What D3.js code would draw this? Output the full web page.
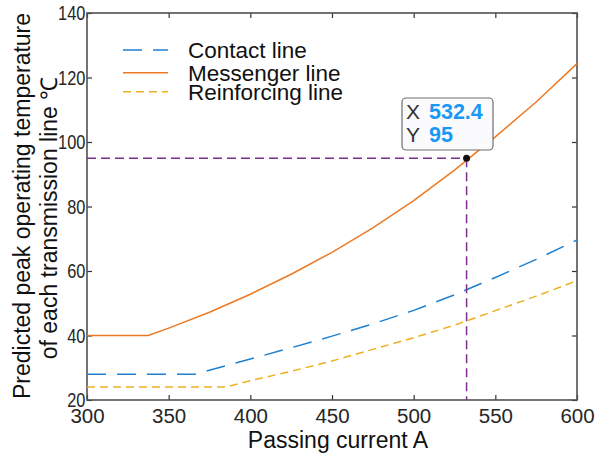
<!DOCTYPE html>
<html>
<head>
<meta charset="utf-8">
<script src="https://cdn.jsdelivr.net/npm/d3@7"></script>
<style>
  html, body { margin: 0; padding: 0; background: #fff; }
  svg { display: block; }
  text { font-family: "Liberation Sans", Arial, sans-serif; }
</style>
</head>
<body>
<svg id="chart" width="599" height="457"></svg>
<script>
// ---- data ----
const contactX   = [300, 366, 400, 425, 450, 475, 500, 525, 550, 575, 600];
const contactY   = [28, 28, 32.7, 36.2, 39.8, 43.6, 47.8, 52.6, 58, 63.6, 69.6];
const messengerX = [300, 337.5, 350, 375, 400, 425, 450, 475, 500, 525, 550, 575, 600];
const messengerY = [40, 40, 42.3, 47.2, 52.8, 59, 65.8, 73.4, 81.8, 91.3, 101.6, 112.4, 124.3];
const reinforcingX = [300, 385, 400, 425, 450, 475, 500, 525, 550, 575, 600];
const reinforcingY = [24, 24, 26, 28.9, 32.1, 35.7, 39.3, 43.2, 47.7, 52.2, 57];
const xTicks = [300, 350, 400, 450, 500, 550, 600];
const yTicks = [20, 40, 60, 80, 100, 120, 140];
const seriesNames = ["Contact line", "Messenger line", "Reinforcing line"];
const tipX = 532.4, tipY = 95;

// ---- layout ----
const svg = d3.select("#chart");
const L = 87, R = 577, T = 13, B = 400;
const x = d3.scaleLinear().domain([300, 600]).range([L, R]);
const y = d3.scaleLinear().domain([20, 140]).range([B, T]);

const styles = [
  { color: "#1f80d0", dash: "19,11" },
  { color: "#ec7a24", dash: null },
  { color: "#edb120", dash: "8,5" }
];
const series = [
  contactX.map((v, i) => [v, contactY[i]]),
  messengerX.map((v, i) => [v, messengerY[i]]),
  reinforcingX.map((v, i) => [v, reinforcingY[i]])
];

const axisColor = "#505050";
const tickLen = 5;

// axes
const gx = svg.append("g").attr("transform", `translate(0,${B})`)
  .call(d3.axisBottom(x).tickValues(xTicks).tickSize(-tickLen).tickPadding(8).tickFormat(d3.format("d")));
const gy = svg.append("g").attr("transform", `translate(${L},0)`)
  .call(d3.axisLeft(y).tickValues(yTicks).tickSize(-tickLen).tickPadding(2).tickFormat(d3.format("d")));
const gxt = svg.append("g").attr("transform", `translate(0,${T})`)
  .call(d3.axisTop(x).tickValues(xTicks).tickSize(-tickLen).tickFormat(""));
const gyr = svg.append("g").attr("transform", `translate(${R},0)`)
  .call(d3.axisRight(y).tickValues(yTicks).tickSize(-tickLen).tickFormat(""));
[gx, gy, gxt, gyr].forEach(g => {
  g.select(".domain").remove();
  g.selectAll(".tick line").attr("stroke", "#333").attr("stroke-width", 1.2);
  g.selectAll(".tick text").attr("fill", "#262626").attr("font-size", 20.5)
    .attr("font-family", "Liberation Sans, Arial, sans-serif");
});
// y tick labels are narrower in the reference
gy.selectAll(".tick text").attr("font-size", 21).attr("transform", "scale(0.78,1)");

// box
svg.append("rect").attr("x", L).attr("y", T).attr("width", R - L).attr("height", B - T)
  .attr("fill", "none").attr("stroke", axisColor).attr("stroke-width", 1.6);

// lines
const line = d3.line().x(d => x(d[0])).y(d => y(d[1]));
series.forEach((s, i) => {
  svg.append("path").datum(s).attr("d", line)
    .attr("fill", "none").attr("stroke", styles[i].color).attr("stroke-width", 1.5)
    .attr("stroke-dasharray", styles[i].dash);
});

// crosshair
const purple = "#7e2f8e";
svg.append("line").attr("x1", x(300)).attr("x2", x(tipX)).attr("y1", y(tipY)).attr("y2", y(tipY))
  .attr("stroke", purple).attr("stroke-width", 1.5).attr("stroke-dasharray", "9,5");
svg.append("line").attr("x1", x(tipX)).attr("x2", x(tipX)).attr("y1", y(tipY)).attr("y2", y(20))
  .attr("stroke", purple).attr("stroke-width", 1.5).attr("stroke-dasharray", "9,5");
svg.append("circle").attr("cx", x(tipX)).attr("cy", y(tipY)).attr("r", 3.5).attr("fill", "#111");

// data tip
const tb = { x: 402, y: 98, w: 91, h: 52 };
svg.append("rect").attr("x", tb.x).attr("y", tb.y).attr("width", tb.w).attr("height", tb.h)
  .attr("rx", 4).attr("fill", "#fbfbfd").attr("stroke", "#6e6e6e").attr("stroke-width", 1.2);
const tipRows = [["X", tipX.toFixed(1)], ["Y", String(tipY)]];
tipRows.forEach((r, i) => {
  const by = 119 + i * 22.5;
  svg.append("text").attr("x", 406).attr("y", by).attr("font-size", 21).attr("fill", "#333").text(r[0]);
  svg.append("text").attr("x", 429).attr("y", by).attr("font-size", 21.5).attr("font-weight", "bold")
    .attr("fill", "#1a98f5").text(r[1]);
});

// legend
const legY = [50, 72.7, 91.7];
seriesNames.forEach((name, i) => {
  svg.append("line").attr("x1", 123).attr("x2", 168).attr("y1", legY[i]).attr("y2", legY[i])
    .attr("stroke", styles[i].color).attr("stroke-width", 1.5).attr("stroke-dasharray", styles[i].dash);
  svg.append("text").attr("x", 188).attr("y", legY[i] + 8.3).attr("font-size", 22.5).attr("fill", "#111").text(name);
});

// axis titles
svg.append("text").attr("x", (L + R) / 2 + 6).attr("y", 448).attr("text-anchor", "middle")
  .attr("font-size", 23).attr("fill", "#111").text("Passing current A");
const yt1 = svg.append("g").attr("transform", `translate(30,206) rotate(-90)`);
yt1.append("text").attr("x", 0).attr("y", 0).attr("text-anchor", "middle")
  .attr("font-size", 23).attr("fill", "#111").text("Predicted peak operating temperature");
const yt2 = svg.append("g").attr("transform", `translate(57,218) rotate(-90)`);
yt2.append("text").attr("x", 0).attr("y", 0).attr("text-anchor", "middle")
  .attr("font-size", 23).attr("fill", "#111").text("of each transmission line ℃");
</script>
</body>
</html>
